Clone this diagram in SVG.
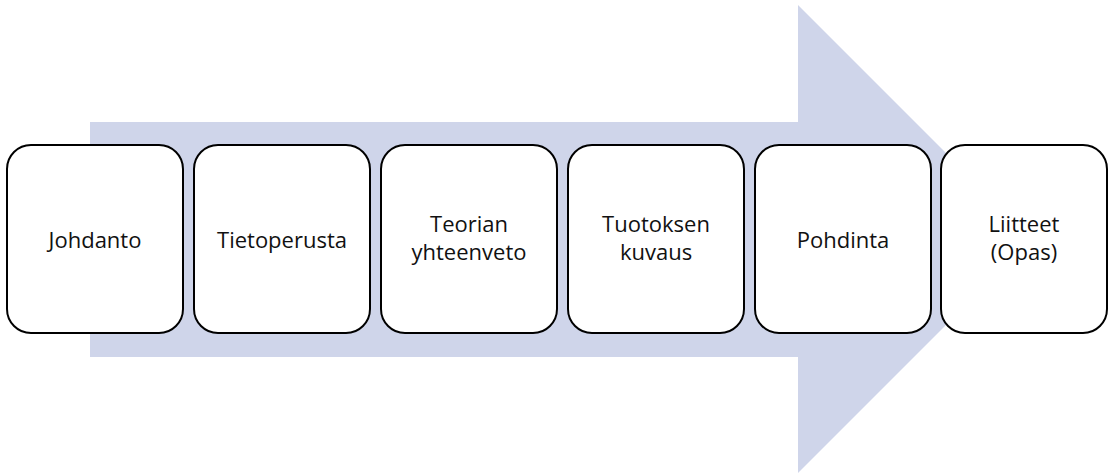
<svg xmlns="http://www.w3.org/2000/svg" width="1110" height="473" viewBox="0 0 1110 473">
  <style>
    .step rect { fill: #ffffff; stroke: #000000; stroke-width: 2; }
    .step text { font-family: "Open Sans", "Liberation Sans", sans-serif; font-size: 22px; fill: #111111; text-anchor: middle; }
    .flow { fill: #cfd5ea; }
  </style>
  <!-- background process arrow -->
  <g id="connectors">
    <polygon class="flow" points="90,122 798,122 798,5 1032,239 798,473 798,357 90,357"/>
  </g>
  <g id="node-johdanto" class="step">
    <rect x="7" y="145" width="176" height="188" rx="24" ry="24"/>
    <text x="95" y="248">Johdanto</text>
  </g>
  <g id="node-tietoperusta" class="step">
    <rect x="194" y="145" width="176" height="188" rx="24" ry="24"/>
    <text x="282" y="248">Tietoperusta</text>
  </g>
  <g id="node-teorian" class="step">
    <rect x="381" y="145" width="176" height="188" rx="24" ry="24"/>
    <text x="469" y="232">Teorian</text>
    <text x="469" y="260">yhteenveto</text>
  </g>
  <g id="node-tuotoksen" class="step">
    <rect x="568" y="145" width="176" height="188" rx="24" ry="24"/>
    <text x="656" y="232">Tuotoksen</text>
    <text x="656" y="260">kuvaus</text>
  </g>
  <g id="node-pohdinta" class="step">
    <rect x="755" y="145" width="176" height="188" rx="24" ry="24"/>
    <text x="843" y="248">Pohdinta</text>
  </g>
  <g id="node-liitteet" class="step">
    <rect x="941" y="145" width="166" height="188" rx="24" ry="24"/>
    <text x="1024" y="232">Liitteet</text>
    <text x="1024" y="260">(Opas)</text>
  </g>
</svg>
